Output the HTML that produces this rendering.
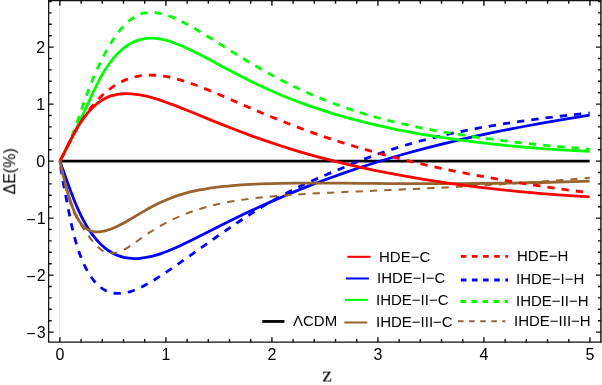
<!DOCTYPE html>
<html><head><meta charset="utf-8"><title>plot</title>
<style>
html,body{margin:0;padding:0;background:#fff;}
body{width:602px;height:385px;position:relative;overflow:hidden;font-family:"Liberation Sans",sans-serif;color:#000;}
.t{will-change:transform;position:absolute;white-space:nowrap;font-family:"Liberation Sans",sans-serif;}
.t.r{text-align:right;}
.t.c{text-align:center;}
</style></head><body>
<svg width="602" height="385" viewBox="0 0 602 385" style="position:absolute;left:0;top:0">
<line x1="59.65" y1="0.7" x2="59.65" y2="342.15" stroke="#e6e6e6" stroke-width="1"/>
<line x1="48.65" y1="161.1" x2="601.0" y2="161.1" stroke="#ececec" stroke-width="1"/>
<line x1="59.9" y1="161.1" x2="589.7" y2="161.1" stroke="#000" stroke-width="2.8"/>
<path d="M59.90,161.00 C60.27,162.03 60.66,163.10 61.05,164.20 C61.44,165.31 61.84,166.44 62.25,167.61 C62.66,168.78 63.08,169.98 63.51,171.21 C63.94,172.44 64.37,173.70 64.82,174.98 C65.27,176.26 65.73,177.56 66.20,178.89 C66.66,180.21 67.14,181.56 67.63,182.93 C68.12,184.29 68.63,185.67 69.14,187.07 C69.65,188.46 70.18,189.87 70.71,191.30 C71.25,192.72 71.80,194.15 72.36,195.59 C72.92,197.02 73.49,198.47 74.08,199.91 C74.66,201.36 75.26,202.81 75.88,204.25 C76.49,205.69 77.12,207.14 77.76,208.57 C78.40,210.00 79.06,211.43 79.73,212.85 C80.40,214.26 81.09,215.66 81.79,217.05 C82.49,218.44 83.21,219.81 83.94,221.15 C84.68,222.50 85.43,223.83 86.20,225.14 C86.97,226.44 87.75,227.72 88.56,228.98 C89.36,230.23 90.18,231.46 91.02,232.66 C91.86,233.86 92.72,235.04 93.60,236.17 C94.48,237.31 95.38,238.42 96.30,239.49 C97.22,240.57 98.16,241.60 99.12,242.60 C100.08,243.60 101.06,244.57 102.07,245.49 C103.07,246.41 104.10,247.29 105.15,248.13 C106.21,248.97 107.28,249.76 108.38,250.51 C109.48,251.26 110.61,251.96 111.76,252.62 C112.91,253.27 114.09,253.87 115.29,254.43 C116.49,254.98 117.72,255.48 118.98,255.93 C120.24,256.38 121.53,256.77 122.85,257.10 C124.16,257.44 125.51,257.71 126.89,257.93 C128.27,258.15 129.67,258.31 131.12,258.41 C132.56,258.52 134.03,258.56 135.54,258.54 C137.04,258.52 138.58,258.44 140.16,258.30 C141.74,258.17 143.35,257.97 145.00,257.70 C146.65,257.44 148.33,257.12 150.06,256.73 C151.78,256.35 153.54,255.90 155.35,255.39 C157.15,254.88 158.99,254.30 160.88,253.66 C162.77,253.02 164.70,252.32 166.67,251.55 C168.64,250.78 170.66,249.95 172.72,249.06 C174.79,248.17 176.90,247.22 179.06,246.22 C181.21,245.22 183.42,244.16 185.68,243.06 C187.94,241.96 190.25,240.82 192.61,239.64 C194.97,238.46 197.38,237.23 199.85,235.98 C202.32,234.73 204.85,233.44 207.43,232.13 C210.02,230.82 212.66,229.48 215.36,228.13 C218.06,226.77 220.83,225.39 223.65,223.98 C226.48,222.58 229.37,221.16 232.33,219.71 C235.28,218.27 238.31,216.81 241.40,215.33 C244.49,213.85 247.65,212.36 250.89,210.85 C254.12,209.34 257.43,207.81 260.81,206.28 C264.19,204.74 267.65,203.19 271.19,201.63 C274.73,200.07 278.35,198.50 282.05,196.92 C285.75,195.34 289.53,193.75 293.40,192.16 C297.27,190.57 301.23,188.97 305.28,187.36 C309.33,185.76 313.47,184.15 317.70,182.54 C321.94,180.93 326.27,179.31 330.70,177.70 C335.13,176.09 339.66,174.47 344.29,172.86 C348.92,171.25 353.66,169.64 358.51,168.04 C363.35,166.43 368.31,164.83 373.37,163.24 C378.44,161.64 383.62,160.06 388.93,158.48 C394.23,156.90 399.65,155.33 405.19,153.76 C410.74,152.20 416.41,150.65 422.21,149.12 C428.01,147.58 433.94,146.06 440.00,144.55 C446.07,143.04 452.27,141.55 458.62,140.07 C464.96,138.59 471.45,137.14 478.09,135.69 C484.72,134.25 491.51,132.83 498.45,131.42 C505.39,130.01 512.49,128.62 519.75,127.25 C527.01,125.87 534.43,124.51 542.03,123.16 C549.62,121.81 557.38,120.48 565.33,119.16 C573.27,117.83 581.39,116.53 589.70,115.23" fill="none" stroke="#0000ff" stroke-width="2.8"/>
<path d="M59.90,161.00 C60.27,163.97 60.66,166.73 61.05,169.35 C61.44,171.97 61.84,174.46 62.25,176.86 C62.66,179.26 63.08,181.58 63.51,183.88 C63.94,186.18 64.37,188.47 64.82,190.80 C65.27,193.13 65.73,195.50 66.20,197.97 C66.66,200.44 67.14,202.98 67.63,205.56 C68.12,208.13 68.63,210.74 69.14,213.34 C69.65,215.94 70.18,218.54 70.71,221.08 C71.25,223.62 71.80,226.10 72.36,228.50 C72.92,230.90 73.49,233.23 74.08,235.49 C74.66,237.75 75.26,239.94 75.88,242.05 C76.49,244.17 77.12,246.21 77.76,248.19 C78.40,250.17 79.06,252.08 79.73,253.92 C80.40,255.77 81.09,257.54 81.79,259.26 C82.49,260.97 83.21,262.62 83.94,264.20 C84.68,265.79 85.43,267.32 86.20,268.78 C86.97,270.24 87.75,271.65 88.56,272.99 C89.36,274.33 90.18,275.60 91.02,276.82 C91.86,278.03 92.72,279.19 93.60,280.27 C94.48,281.36 95.38,282.38 96.30,283.34 C97.22,284.30 98.16,285.19 99.12,286.01 C100.08,286.84 101.06,287.60 102.07,288.29 C103.07,288.98 104.10,289.60 105.15,290.16 C106.21,290.71 107.28,291.20 108.38,291.61 C109.48,292.03 110.61,292.38 111.76,292.65 C112.91,292.93 114.09,293.13 115.29,293.26 C116.49,293.39 117.72,293.45 118.98,293.44 C120.24,293.43 121.53,293.34 122.85,293.18 C124.16,293.02 125.51,292.78 126.89,292.47 C128.27,292.16 129.67,291.78 131.12,291.31 C132.56,290.85 134.03,290.32 135.54,289.71 C137.04,289.10 138.58,288.42 140.16,287.68 C141.74,286.93 143.35,286.12 145.00,285.24 C146.65,284.36 148.33,283.42 150.06,282.42 C151.78,281.43 153.54,280.37 155.35,279.25 C157.15,278.14 158.99,276.97 160.88,275.75 C162.77,274.53 164.70,273.26 166.67,271.93 C168.64,270.61 170.66,269.24 172.72,267.82 C174.79,266.40 176.90,264.93 179.06,263.42 C181.21,261.91 183.42,260.36 185.68,258.76 C187.94,257.16 190.25,255.52 192.61,253.84 C194.97,252.17 197.38,250.45 199.85,248.69 C202.32,246.94 204.85,245.15 207.43,243.32 C210.02,241.50 212.66,239.64 215.36,237.75 C218.06,235.86 220.83,233.94 223.65,231.99 C226.48,230.04 229.37,228.06 232.33,226.06 C235.28,224.06 238.31,222.03 241.40,220.00 C244.49,217.96 247.65,215.91 250.89,213.86 C254.12,211.80 257.43,209.75 260.81,207.70 C264.19,205.64 267.65,203.60 271.19,201.57 C274.73,199.54 278.35,197.52 282.05,195.53 C285.75,193.53 289.53,191.56 293.40,189.63 C297.27,187.69 301.23,185.79 305.28,183.92 C309.33,182.06 313.47,180.22 317.70,178.39 C321.94,176.55 326.27,174.72 330.70,172.87 C335.13,171.02 339.66,169.13 344.29,167.21 C348.92,165.29 353.66,163.34 358.51,161.41 C363.35,159.48 368.31,157.58 373.37,155.73 C378.44,153.89 383.62,152.09 388.93,150.34 C394.23,148.60 399.65,146.90 405.19,145.26 C410.74,143.62 416.41,142.03 422.21,140.49 C428.01,138.96 433.94,137.48 440.00,136.05 C446.07,134.63 452.27,133.26 458.62,131.95 C464.96,130.63 471.45,129.37 478.09,128.16 C484.72,126.95 491.51,125.79 498.45,124.67 C505.39,123.55 512.49,122.48 519.75,121.44 C527.01,120.40 534.43,119.39 542.03,118.42 C549.62,117.45 557.38,116.51 565.33,115.59 C573.27,114.67 581.39,113.78 589.70,112.91" fill="none" stroke="#0000ff" stroke-width="2.8" stroke-dasharray="7.3,7.04" stroke-dashoffset="8.43"/>
<path d="M59.90,161.00 C60.27,160.35 60.66,159.68 61.05,158.98 C61.44,158.29 61.84,157.57 62.25,156.83 C62.66,156.09 63.08,155.33 63.51,154.54 C63.94,153.75 64.37,152.93 64.82,152.09 C65.27,151.25 65.73,150.38 66.20,149.48 C66.66,148.58 67.14,147.66 67.63,146.70 C68.12,145.74 68.63,144.76 69.14,143.74 C69.65,142.72 70.18,141.67 70.71,140.59 C71.25,139.50 71.80,138.39 72.36,137.24 C72.92,136.09 73.49,134.90 74.08,133.68 C74.66,132.46 75.26,131.20 75.88,129.90 C76.49,128.60 77.12,127.27 77.76,125.90 C78.40,124.52 79.06,123.11 79.73,121.66 C80.40,120.20 81.09,118.71 81.79,117.17 C82.49,115.63 83.21,114.05 83.94,112.43 C84.68,110.80 85.43,109.13 86.20,107.42 C86.97,105.71 87.75,103.97 88.56,102.19 C89.36,100.42 90.18,98.61 91.02,96.80 C91.86,94.98 92.72,93.15 93.60,91.31 C94.48,89.48 95.38,87.64 96.30,85.81 C97.22,83.97 98.16,82.15 99.12,80.34 C100.08,78.54 101.06,76.75 102.07,75.00 C103.07,73.24 104.10,71.52 105.15,69.84 C106.21,68.15 107.28,66.51 108.38,64.93 C109.48,63.34 110.61,61.81 111.76,60.33 C112.91,58.86 114.09,57.45 115.29,56.10 C116.49,54.75 117.72,53.46 118.98,52.24 C120.24,51.02 121.53,49.87 122.85,48.79 C124.16,47.72 125.51,46.71 126.89,45.78 C128.27,44.85 129.67,44.00 131.12,43.23 C132.56,42.46 134.03,41.77 135.54,41.16 C137.04,40.56 138.58,40.04 140.16,39.61 C141.74,39.18 143.35,38.84 145.00,38.60 C146.65,38.35 148.33,38.20 150.06,38.15 C151.78,38.09 153.54,38.14 155.35,38.29 C157.15,38.44 158.99,38.69 160.88,39.05 C162.77,39.40 164.70,39.86 166.67,40.41 C168.64,40.96 170.66,41.61 172.72,42.34 C174.79,43.07 176.90,43.88 179.06,44.77 C181.21,45.66 183.42,46.63 185.68,47.66 C187.94,48.70 190.25,49.80 192.61,50.96 C194.97,52.13 197.38,53.35 199.85,54.62 C202.32,55.90 204.85,57.22 207.43,58.59 C210.02,59.96 212.66,61.37 215.36,62.82 C218.06,64.27 220.83,65.75 223.65,67.26 C226.48,68.76 229.37,70.30 232.33,71.85 C235.28,73.41 238.31,74.98 241.40,76.56 C244.49,78.14 247.65,79.73 250.89,81.32 C254.12,82.92 257.43,84.51 260.81,86.10 C264.19,87.69 267.65,89.27 271.19,90.83 C274.73,92.40 278.35,93.95 282.05,95.48 C285.75,97.01 289.53,98.52 293.40,100.01 C297.27,101.50 301.23,102.97 305.28,104.42 C309.33,105.87 313.47,107.30 317.70,108.70 C321.94,110.11 326.27,111.49 330.70,112.84 C335.13,114.20 339.66,115.53 344.29,116.84 C348.92,118.14 353.66,119.42 358.51,120.67 C363.35,121.92 368.31,123.15 373.37,124.34 C378.44,125.54 383.62,126.71 388.93,127.84 C394.23,128.98 399.65,130.08 405.19,131.16 C410.74,132.23 416.41,133.27 422.21,134.28 C428.01,135.29 433.94,136.27 440.00,137.21 C446.07,138.15 452.27,139.05 458.62,139.92 C464.96,140.79 471.45,141.63 478.09,142.42 C484.72,143.22 491.51,143.98 498.45,144.70 C505.39,145.42 512.49,146.10 519.75,146.74 C527.01,147.38 534.43,147.98 542.03,148.54 C549.62,149.10 557.38,149.61 565.33,150.09 C573.27,150.56 581.39,150.99 589.70,151.37" fill="none" stroke="#00ff00" stroke-width="2.8"/>
<path d="M59.90,161.00 C60.27,160.32 60.66,159.63 61.05,158.92 C61.44,158.20 61.84,157.47 62.25,156.70 C62.66,155.94 63.08,155.15 63.51,154.33 C63.94,153.50 64.37,152.65 64.82,151.75 C65.27,150.86 65.73,149.93 66.20,148.96 C66.66,147.98 67.14,146.97 67.63,145.90 C68.12,144.84 68.63,143.73 69.14,142.56 C69.65,141.40 70.18,140.18 70.71,138.90 C71.25,137.63 71.80,136.29 72.36,134.90 C72.92,133.50 73.49,132.04 74.08,130.51 C74.66,128.98 75.26,127.39 75.88,125.72 C76.49,124.05 77.12,122.30 77.76,120.48 C78.40,118.66 79.06,116.76 79.73,114.81 C80.40,112.86 81.09,110.85 81.79,108.81 C82.49,106.76 83.21,104.68 83.94,102.58 C84.68,100.47 85.43,98.35 86.20,96.23 C86.97,94.10 87.75,91.98 88.56,89.87 C89.36,87.76 90.18,85.65 91.02,83.55 C91.86,81.46 92.72,79.37 93.60,77.29 C94.48,75.21 95.38,73.14 96.30,71.08 C97.22,69.02 98.16,66.98 99.12,64.94 C100.08,62.91 101.06,60.89 102.07,58.89 C103.07,56.89 104.10,54.91 105.15,52.96 C106.21,51.00 107.28,49.08 108.38,47.19 C109.48,45.30 110.61,43.45 111.76,41.64 C112.91,39.83 114.09,38.07 115.29,36.36 C116.49,34.65 117.72,32.99 118.98,31.41 C120.24,29.82 121.53,28.30 122.85,26.87 C124.16,25.43 125.51,24.07 126.89,22.81 C128.27,21.55 129.67,20.38 131.12,19.31 C132.56,18.25 134.03,17.29 135.54,16.45 C137.04,15.60 138.58,14.88 140.16,14.29 C141.74,13.69 143.35,13.23 145.00,12.91 C146.65,12.59 148.33,12.40 150.06,12.35 C151.78,12.30 153.54,12.37 155.35,12.57 C157.15,12.77 158.99,13.08 160.88,13.52 C162.77,13.95 164.70,14.49 166.67,15.14 C168.64,15.79 170.66,16.54 172.72,17.39 C174.79,18.23 176.90,19.18 179.06,20.21 C181.21,21.24 183.42,22.36 185.68,23.56 C187.94,24.76 190.25,26.03 192.61,27.38 C194.97,28.73 197.38,30.14 199.85,31.62 C202.32,33.10 204.85,34.65 207.43,36.24 C210.02,37.84 212.66,39.48 215.36,41.18 C218.06,42.87 220.83,44.61 223.65,46.39 C226.48,48.16 229.37,49.98 232.33,51.82 C235.28,53.66 238.31,55.53 241.40,57.42 C244.49,59.30 247.65,61.21 250.89,63.13 C254.12,65.05 257.43,66.98 260.81,68.92 C264.19,70.85 267.65,72.79 271.19,74.72 C274.73,76.65 278.35,78.58 282.05,80.49 C285.75,82.40 289.53,84.30 293.40,86.18 C297.27,88.06 301.23,89.91 305.28,91.74 C309.33,93.57 313.47,95.38 317.70,97.15 C321.94,98.92 326.27,100.66 330.70,102.37 C335.13,104.07 339.66,105.73 344.29,107.35 C348.92,108.97 353.66,110.55 358.51,112.07 C363.35,113.60 368.31,115.07 373.37,116.49 C378.44,117.92 383.62,119.29 388.93,120.62 C394.23,121.94 399.65,123.22 405.19,124.46 C410.74,125.70 416.41,126.89 422.21,128.04 C428.01,129.19 433.94,130.30 440.00,131.38 C446.07,132.45 452.27,133.48 458.62,134.48 C464.96,135.49 471.45,136.45 478.09,137.39 C484.72,138.32 491.51,139.22 498.45,140.09 C505.39,140.97 512.49,141.81 519.75,142.62 C527.01,143.44 534.43,144.23 542.03,144.99 C549.62,145.75 557.38,146.49 565.33,147.20 C573.27,147.92 581.39,148.61 589.70,149.28" fill="none" stroke="#00ff00" stroke-width="2.8" stroke-dasharray="7.3,7.04" stroke-dashoffset="1.25"/>
<path d="M59.90,161.00 C60.27,162.72 60.66,164.45 61.05,166.19 C61.44,167.93 61.84,169.68 62.25,171.43 C62.66,173.18 63.08,174.94 63.51,176.70 C63.94,178.45 64.37,180.20 64.82,181.95 C65.27,183.69 65.73,185.42 66.20,187.15 C66.66,188.87 67.14,190.57 67.63,192.26 C68.12,193.94 68.63,195.61 69.14,197.24 C69.65,198.88 70.18,200.48 70.71,202.05 C71.25,203.62 71.80,205.16 72.36,206.64 C72.92,208.13 73.49,209.57 74.08,210.96 C74.66,212.35 75.26,213.68 75.88,214.96 C76.49,216.23 77.12,217.44 77.76,218.59 C78.40,219.73 79.06,220.80 79.73,221.80 C80.40,222.80 81.09,223.71 81.79,224.55 C82.49,225.39 83.21,226.15 83.94,226.84 C84.68,227.52 85.43,228.13 86.20,228.66 C86.97,229.19 87.75,229.64 88.56,230.02 C89.36,230.41 90.18,230.72 91.02,230.97 C91.86,231.22 92.72,231.41 93.60,231.55 C94.48,231.69 95.38,231.78 96.30,231.82 C97.22,231.86 98.16,231.85 99.12,231.79 C100.08,231.73 101.06,231.62 102.07,231.46 C103.07,231.30 104.10,231.09 105.15,230.83 C106.21,230.57 107.28,230.26 108.38,229.90 C109.48,229.55 110.61,229.14 111.76,228.69 C112.91,228.24 114.09,227.74 115.29,227.19 C116.49,226.65 117.72,226.06 118.98,225.44 C120.24,224.81 121.53,224.14 122.85,223.43 C124.16,222.72 125.51,221.97 126.89,221.19 C128.27,220.40 129.67,219.58 131.12,218.74 C132.56,217.89 134.03,217.02 135.54,216.13 C137.04,215.23 138.58,214.32 140.16,213.40 C141.74,212.48 143.35,211.55 145.00,210.61 C146.65,209.67 148.33,208.73 150.06,207.80 C151.78,206.86 153.54,205.93 155.35,205.02 C157.15,204.10 158.99,203.20 160.88,202.31 C162.77,201.43 164.70,200.57 166.67,199.73 C168.64,198.90 170.66,198.09 172.72,197.33 C174.79,196.56 176.90,195.83 179.06,195.14 C181.21,194.44 183.42,193.79 185.68,193.17 C187.94,192.56 190.25,191.98 192.61,191.43 C194.97,190.88 197.38,190.37 199.85,189.89 C202.32,189.41 204.85,188.96 207.43,188.55 C210.02,188.13 212.66,187.74 215.36,187.38 C218.06,187.02 220.83,186.69 223.65,186.39 C226.48,186.08 229.37,185.80 232.33,185.55 C235.28,185.30 238.31,185.07 241.40,184.86 C244.49,184.65 247.65,184.47 250.89,184.30 C254.12,184.14 257.43,183.99 260.81,183.87 C264.19,183.74 267.65,183.63 271.19,183.54 C274.73,183.45 278.35,183.37 282.05,183.31 C285.75,183.25 289.53,183.21 293.40,183.17 C297.27,183.14 301.23,183.12 305.28,183.10 C309.33,183.09 313.47,183.09 317.70,183.10 C321.94,183.11 326.27,183.12 330.70,183.14 C335.13,183.17 339.66,183.19 344.29,183.22 C348.92,183.26 353.66,183.29 358.51,183.33 C363.35,183.36 368.31,183.40 373.37,183.44 C378.44,183.48 383.62,183.51 388.93,183.54 C394.23,183.58 399.65,183.61 405.19,183.63 C410.74,183.65 416.41,183.67 422.21,183.68 C428.01,183.69 433.94,183.69 440.00,183.69 C446.07,183.68 452.27,183.66 458.62,183.63 C464.96,183.60 471.45,183.55 478.09,183.49 C484.72,183.44 491.51,183.36 498.45,183.27 C505.39,183.18 512.49,183.07 519.75,182.94 C527.01,182.82 534.43,182.67 542.03,182.50 C549.62,182.33 557.38,182.14 565.33,181.92 C573.27,181.70 581.39,181.46 589.70,181.20" fill="none" stroke="#99632f" stroke-width="2.8"/>
<path d="M59.90,161.00 C60.27,162.86 60.66,164.74 61.05,166.64 C61.44,168.53 61.84,170.44 62.25,172.35 C62.66,174.25 63.08,176.16 63.51,178.06 C63.94,179.96 64.37,181.84 64.82,183.71 C65.27,185.58 65.73,187.42 66.20,189.24 C66.66,191.06 67.14,192.84 67.63,194.59 C68.12,196.33 68.63,198.03 69.14,199.68 C69.65,201.34 70.18,202.93 70.71,204.47 C71.25,206.01 71.80,207.48 72.36,208.89 C72.92,210.29 73.49,211.61 74.08,212.87 C74.66,214.13 75.26,215.32 75.88,216.47 C76.49,217.61 77.12,218.71 77.76,219.79 C78.40,220.86 79.06,221.91 79.73,222.96 C80.40,224.00 81.09,225.04 81.79,226.09 C82.49,227.13 83.21,228.20 83.94,229.29 C84.68,230.38 85.43,231.49 86.20,232.60 C86.97,233.71 87.75,234.82 88.56,235.92 C89.36,237.02 90.18,238.10 91.02,239.15 C91.86,240.21 92.72,241.24 93.60,242.24 C94.48,243.25 95.38,244.24 96.30,245.21 C97.22,246.18 98.16,247.14 99.12,248.06 C100.08,248.97 101.06,249.76 102.07,250.41 C103.07,251.06 104.10,251.58 105.15,251.99 C106.21,252.39 107.28,252.68 108.38,252.86 C109.48,253.05 110.61,253.14 111.76,253.14 C112.91,253.14 114.09,253.08 115.29,252.88 C116.49,252.69 117.72,252.36 118.98,251.91 C120.24,251.47 121.53,250.91 122.85,250.26 C124.16,249.60 125.51,248.85 126.89,248.02 C128.27,247.20 129.67,246.29 131.12,245.33 C132.56,244.37 134.03,243.35 135.54,242.28 C137.04,241.22 138.58,240.12 140.16,239.00 C141.74,237.88 143.35,236.73 145.00,235.59 C146.65,234.44 148.33,233.29 150.06,232.16 C151.78,231.03 153.54,229.91 155.35,228.81 C157.15,227.71 158.99,226.63 160.88,225.56 C162.77,224.50 164.70,223.46 166.67,222.44 C168.64,221.41 170.66,220.41 172.72,219.44 C174.79,218.46 176.90,217.50 179.06,216.57 C181.21,215.64 183.42,214.74 185.68,213.86 C187.94,212.98 190.25,212.13 192.61,211.31 C194.97,210.49 197.38,209.69 199.85,208.93 C202.32,208.16 204.85,207.43 207.43,206.73 C210.02,206.03 212.66,205.36 215.36,204.72 C218.06,204.09 220.83,203.49 223.65,202.92 C226.48,202.35 229.37,201.81 232.33,201.31 C235.28,200.80 238.31,200.32 241.40,199.87 C244.49,199.42 247.65,199.00 250.89,198.60 C254.12,198.19 257.43,197.82 260.81,197.46 C264.19,197.10 267.65,196.77 271.19,196.45 C274.73,196.13 278.35,195.83 282.05,195.54 C285.75,195.26 289.53,194.99 293.40,194.73 C297.27,194.47 301.23,194.22 305.28,193.99 C309.33,193.75 313.47,193.52 317.70,193.30 C321.94,193.08 326.27,192.86 330.70,192.65 C335.13,192.44 339.66,192.23 344.29,192.02 C348.92,191.81 353.66,191.61 358.51,191.40 C363.35,191.18 368.31,190.97 373.37,190.75 C378.44,190.54 383.62,190.31 388.93,190.08 C394.23,189.85 399.65,189.61 405.19,189.36 C410.74,189.11 416.41,188.85 422.21,188.58 C428.01,188.30 433.94,188.01 440.00,187.71 C446.07,187.40 452.27,187.08 458.62,186.74 C464.96,186.40 471.45,186.04 478.09,185.65 C484.72,185.27 491.51,184.86 498.45,184.43 C505.39,184.00 512.49,183.54 519.75,183.06 C527.01,182.57 534.43,182.06 542.03,181.51 C549.62,180.97 557.38,180.39 565.33,179.78 C573.27,179.17 581.39,178.53 589.70,177.85" fill="none" stroke="#99632f" stroke-width="2.0" stroke-dasharray="7.3,7.04" stroke-dashoffset="5.05"/>
<path d="M59.90,161.00 C60.27,160.33 60.66,159.63 61.05,158.89 C61.44,158.16 61.84,157.38 62.25,156.58 C62.66,155.78 63.08,154.95 63.51,154.09 C63.94,153.24 64.37,152.35 64.82,151.45 C65.27,150.54 65.73,149.61 66.20,148.66 C66.66,147.71 67.14,146.74 67.63,145.75 C68.12,144.77 68.63,143.76 69.14,142.75 C69.65,141.73 70.18,140.71 70.71,139.67 C71.25,138.63 71.80,137.59 72.36,136.53 C72.92,135.48 73.49,134.42 74.08,133.36 C74.66,132.30 75.26,131.24 75.88,130.18 C76.49,129.12 77.12,128.06 77.76,127.00 C78.40,125.94 79.06,124.89 79.73,123.85 C80.40,122.80 81.09,121.77 81.79,120.74 C82.49,119.72 83.21,118.71 83.94,117.71 C84.68,116.71 85.43,115.73 86.20,114.76 C86.97,113.80 87.75,112.85 88.56,111.93 C89.36,111.00 90.18,110.10 91.02,109.22 C91.86,108.34 92.72,107.49 93.60,106.67 C94.48,105.84 95.38,105.05 96.30,104.29 C97.22,103.52 98.16,102.79 99.12,102.10 C100.08,101.40 101.06,100.74 102.07,100.12 C103.07,99.50 104.10,98.92 105.15,98.38 C106.21,97.84 107.28,97.34 108.38,96.89 C109.48,96.44 110.61,96.04 111.76,95.68 C112.91,95.33 114.09,95.02 115.29,94.76 C116.49,94.49 117.72,94.28 118.98,94.11 C120.24,93.94 121.53,93.82 122.85,93.74 C124.16,93.66 125.51,93.63 126.89,93.64 C128.27,93.66 129.67,93.72 131.12,93.82 C132.56,93.93 134.03,94.08 135.54,94.27 C137.04,94.46 138.58,94.70 140.16,94.98 C141.74,95.27 143.35,95.59 145.00,95.96 C146.65,96.33 148.33,96.74 150.06,97.20 C151.78,97.66 153.54,98.16 155.35,98.70 C157.15,99.24 158.99,99.83 160.88,100.45 C162.77,101.08 164.70,101.75 166.67,102.45 C168.64,103.16 170.66,103.90 172.72,104.68 C174.79,105.46 176.90,106.27 179.06,107.12 C181.21,107.97 183.42,108.84 185.68,109.75 C187.94,110.66 190.25,111.59 192.61,112.56 C194.97,113.52 197.38,114.51 199.85,115.52 C202.32,116.53 204.85,117.56 207.43,118.62 C210.02,119.67 212.66,120.75 215.36,121.84 C218.06,122.93 220.83,124.04 223.65,125.16 C226.48,126.28 229.37,127.42 232.33,128.57 C235.28,129.72 238.31,130.88 241.40,132.04 C244.49,133.21 247.65,134.39 250.89,135.57 C254.12,136.75 257.43,137.93 260.81,139.12 C264.19,140.31 267.65,141.50 271.19,142.69 C274.73,143.88 278.35,145.07 282.05,146.25 C285.75,147.43 289.53,148.62 293.40,149.79 C297.27,150.97 301.23,152.14 305.28,153.31 C309.33,154.47 313.47,155.63 317.70,156.78 C321.94,157.93 326.27,159.08 330.70,160.21 C335.13,161.34 339.66,162.46 344.29,163.57 C348.92,164.68 353.66,165.78 358.51,166.87 C363.35,167.95 368.31,169.02 373.37,170.08 C378.44,171.13 383.62,172.17 388.93,173.20 C394.23,174.22 399.65,175.22 405.19,176.21 C410.74,177.20 416.41,178.17 422.21,179.11 C428.01,180.06 433.94,180.99 440.00,181.89 C446.07,182.79 452.27,183.67 458.62,184.53 C464.96,185.39 471.45,186.22 478.09,187.03 C484.72,187.83 491.51,188.62 498.45,189.37 C505.39,190.12 512.49,190.85 519.75,191.54 C527.01,192.24 534.43,192.90 542.03,193.54 C549.62,194.17 557.38,194.77 565.33,195.34 C573.27,195.92 581.39,196.45 589.70,196.95" fill="none" stroke="#ff0000" stroke-width="2.8"/>
<path d="M59.90,161.00 C60.27,160.33 60.66,159.63 61.05,158.90 C61.44,158.17 61.84,157.41 62.25,156.62 C62.66,155.83 63.08,155.02 63.51,154.18 C63.94,153.34 64.37,152.48 64.82,151.59 C65.27,150.71 65.73,149.80 66.20,148.87 C66.66,147.94 67.14,146.99 67.63,146.03 C68.12,145.06 68.63,144.08 69.14,143.08 C69.65,142.08 70.18,141.06 70.71,140.04 C71.25,139.01 71.80,137.97 72.36,136.91 C72.92,135.86 73.49,134.80 74.08,133.73 C74.66,132.66 75.26,131.58 75.88,130.49 C76.49,129.40 77.12,128.31 77.76,127.22 C78.40,126.12 79.06,125.02 79.73,123.92 C80.40,122.82 81.09,121.71 81.79,120.61 C82.49,119.51 83.21,118.41 83.94,117.31 C84.68,116.21 85.43,115.11 86.20,114.02 C86.97,112.93 87.75,111.85 88.56,110.77 C89.36,109.69 90.18,108.62 91.02,107.56 C91.86,106.50 92.72,105.46 93.60,104.42 C94.48,103.38 95.38,102.36 96.30,101.35 C97.22,100.34 98.16,99.34 99.12,98.36 C100.08,97.38 101.06,96.42 102.07,95.48 C103.07,94.53 104.10,93.61 105.15,92.71 C106.21,91.81 107.28,90.93 108.38,90.07 C109.48,89.22 110.61,88.38 111.76,87.58 C112.91,86.77 114.09,85.99 115.29,85.24 C116.49,84.49 117.72,83.77 118.98,83.08 C120.24,82.40 121.53,81.74 122.85,81.13 C124.16,80.52 125.51,79.94 126.89,79.41 C128.27,78.87 129.67,78.38 131.12,77.93 C132.56,77.49 134.03,77.09 135.54,76.74 C137.04,76.39 138.58,76.09 140.16,75.85 C141.74,75.60 143.35,75.41 145.00,75.28 C146.65,75.15 148.33,75.08 150.06,75.07 C151.78,75.06 153.54,75.11 155.35,75.23 C157.15,75.34 158.99,75.52 160.88,75.77 C162.77,76.01 164.70,76.31 166.67,76.68 C168.64,77.05 170.66,77.48 172.72,77.97 C174.79,78.45 176.90,79.00 179.06,79.61 C181.21,80.22 183.42,80.89 185.68,81.61 C187.94,82.33 190.25,83.12 192.61,83.96 C194.97,84.79 197.38,85.69 199.85,86.64 C202.32,87.59 204.85,88.59 207.43,89.64 C210.02,90.68 212.66,91.78 215.36,92.91 C218.06,94.05 220.83,95.23 223.65,96.44 C226.48,97.66 229.37,98.91 232.33,100.20 C235.28,101.48 238.31,102.80 241.40,104.14 C244.49,105.48 247.65,106.85 250.89,108.24 C254.12,109.63 257.43,111.04 260.81,112.46 C264.19,113.89 267.65,115.34 271.19,116.79 C274.73,118.24 278.35,119.71 282.05,121.18 C285.75,122.65 289.53,124.13 293.40,125.61 C297.27,127.09 301.23,128.57 305.28,130.05 C309.33,131.53 313.47,133.01 317.70,134.48 C321.94,135.96 326.27,137.43 330.70,138.89 C335.13,140.36 339.66,141.81 344.29,143.26 C348.92,144.71 353.66,146.15 358.51,147.57 C363.35,149.00 368.31,150.42 373.37,151.82 C378.44,153.22 383.62,154.61 388.93,155.99 C394.23,157.36 399.65,158.73 405.19,160.08 C410.74,161.43 416.41,162.76 422.21,164.09 C428.01,165.41 433.94,166.72 440.00,168.01 C446.07,169.31 452.27,170.58 458.62,171.85 C464.96,173.11 471.45,174.36 478.09,175.59 C484.72,176.83 491.51,178.04 498.45,179.24 C505.39,180.44 512.49,181.63 519.75,182.80 C527.01,183.96 534.43,185.11 542.03,186.24 C549.62,187.38 557.38,188.49 565.33,189.59 C573.27,190.69 581.39,191.76 589.70,192.82" fill="none" stroke="#ff0000" stroke-width="2.8" stroke-dasharray="7.3,7.04" stroke-dashoffset="12.82"/>
<g stroke="#111" fill="none">
<path d="M601.0,0.7 H48.65 V342.15 H601.0" stroke-width="1.25"/>
<path d="M600.92,0.09999999999999998 V342.77" stroke-width="1.45"/>
<path d="M59.90,342.15 v-5.0 M59.90,0.7 v5.0 M81.10,342.15 v-3.1 M81.10,0.7 v3.1 M102.30,342.15 v-3.1 M102.30,0.7 v3.1 M123.51,342.15 v-3.1 M123.51,0.7 v3.1 M144.71,342.15 v-3.1 M144.71,0.7 v3.1 M165.91,342.15 v-5.0 M165.91,0.7 v5.0 M187.11,342.15 v-3.1 M187.11,0.7 v3.1 M208.31,342.15 v-3.1 M208.31,0.7 v3.1 M229.52,342.15 v-3.1 M229.52,0.7 v3.1 M250.72,342.15 v-3.1 M250.72,0.7 v3.1 M271.92,342.15 v-5.0 M271.92,0.7 v5.0 M293.12,342.15 v-3.1 M293.12,0.7 v3.1 M314.32,342.15 v-3.1 M314.32,0.7 v3.1 M335.53,342.15 v-3.1 M335.53,0.7 v3.1 M356.73,342.15 v-3.1 M356.73,0.7 v3.1 M377.93,342.15 v-5.0 M377.93,0.7 v5.0 M399.13,342.15 v-3.1 M399.13,0.7 v3.1 M420.33,342.15 v-3.1 M420.33,0.7 v3.1 M441.54,342.15 v-3.1 M441.54,0.7 v3.1 M462.74,342.15 v-3.1 M462.74,0.7 v3.1 M483.94,342.15 v-5.0 M483.94,0.7 v5.0 M505.14,342.15 v-3.1 M505.14,0.7 v3.1 M526.34,342.15 v-3.1 M526.34,0.7 v3.1 M547.55,342.15 v-3.1 M547.55,0.7 v3.1 M568.75,342.15 v-3.1 M568.75,0.7 v3.1 M589.95,342.15 v-5.0 M589.95,0.7 v5.0 M48.65,332.10 h5.0 M601.0,332.10 h-5.0 M48.65,320.70 h3.1 M601.0,320.70 h-3.1 M48.65,309.30 h3.1 M601.0,309.30 h-3.1 M48.65,297.90 h3.1 M601.0,297.90 h-3.1 M48.65,286.50 h3.1 M601.0,286.50 h-3.1 M48.65,275.10 h5.0 M601.0,275.10 h-5.0 M48.65,263.70 h3.1 M601.0,263.70 h-3.1 M48.65,252.30 h3.1 M601.0,252.30 h-3.1 M48.65,240.90 h3.1 M601.0,240.90 h-3.1 M48.65,229.50 h3.1 M601.0,229.50 h-3.1 M48.65,218.10 h5.0 M601.0,218.10 h-5.0 M48.65,206.70 h3.1 M601.0,206.70 h-3.1 M48.65,195.30 h3.1 M601.0,195.30 h-3.1 M48.65,183.90 h3.1 M601.0,183.90 h-3.1 M48.65,172.50 h3.1 M601.0,172.50 h-3.1 M48.65,161.10 h5.0 M601.0,161.10 h-5.0 M48.65,149.70 h3.1 M601.0,149.70 h-3.1 M48.65,138.30 h3.1 M601.0,138.30 h-3.1 M48.65,126.90 h3.1 M601.0,126.90 h-3.1 M48.65,115.50 h3.1 M601.0,115.50 h-3.1 M48.65,104.10 h5.0 M601.0,104.10 h-5.0 M48.65,92.70 h3.1 M601.0,92.70 h-3.1 M48.65,81.30 h3.1 M601.0,81.30 h-3.1 M48.65,69.90 h3.1 M601.0,69.90 h-3.1 M48.65,58.50 h3.1 M601.0,58.50 h-3.1 M48.65,47.10 h5.0 M601.0,47.10 h-5.0 M48.65,35.70 h3.1 M601.0,35.70 h-3.1 M48.65,24.30 h3.1 M601.0,24.30 h-3.1 M48.65,12.90 h3.1 M601.0,12.90 h-3.1 M48.65,1.50 h3.1 M601.0,1.50 h-3.1" stroke-width="1.4"/>
</g>
<line x1="347.3" y1="256.8" x2="370.4" y2="256.8" stroke="#ff0000" stroke-width="2.0"/>
<line x1="346.0" y1="278.5" x2="368.9" y2="278.5" stroke="#0000ff" stroke-width="2.0"/>
<line x1="344.9" y1="299.9" x2="367.9" y2="299.9" stroke="#00ff00" stroke-width="2.0"/>
<line x1="344.3" y1="322.5" x2="367.3" y2="322.5" stroke="#99632f" stroke-width="2.0"/>
<line x1="262.3" y1="321.45" x2="284.4" y2="321.45" stroke="#000" stroke-width="2.8"/>
<line x1="460.9" y1="256.45" x2="508.1" y2="256.45" stroke="#ff0000" stroke-width="2.8" stroke-dasharray="5.55,5.55"/>
<line x1="460.9" y1="280.0" x2="508.1" y2="280.0" stroke="#0000ff" stroke-width="2.8" stroke-dasharray="5.55,5.55"/>
<line x1="460.4" y1="301.5" x2="507.9" y2="301.5" stroke="#00ff00" stroke-width="2.8" stroke-dasharray="5.55,5.55"/>
<line x1="458.0" y1="321.3" x2="505.3" y2="321.3" stroke="#99632f" stroke-width="1.9" stroke-dasharray="5.55,5.55"/>
</svg>
<div class="t " style="left:379.0px;top:248px;font-size:15px;line-height:17px;">HDE−C</div>
<div class="t " style="left:376.6px;top:269px;font-size:15px;line-height:17px;">IHDE−I−C</div>
<div class="t " style="left:375.9px;top:291px;font-size:15px;line-height:17px;">IHDE−II−C</div>
<div class="t " style="left:375.5px;top:313px;font-size:15px;line-height:17px;">IHDE−III−C</div>
<div class="t " style="left:293.2px;top:312px;font-size:15px;line-height:17px;">ΛCDM</div>
<div class="t " style="left:517.0px;top:247px;font-size:15px;line-height:17px;">HDE−H</div>
<div class="t " style="left:516.4px;top:270px;font-size:15px;line-height:17px;">IHDE−I−H</div>
<div class="t " style="left:515.8px;top:292px;font-size:15px;line-height:17px;">IHDE−II−H</div>
<div class="t " style="left:513.8px;top:312px;font-size:15px;line-height:17px;">IHDE−III−H</div>
<div class="t r" style="left:0px;top:39px;font-size:16px;line-height:17px;width:45.2px;">2</div>
<div class="t r" style="left:0px;top:96px;font-size:16px;line-height:17px;width:45.2px;">1</div>
<div class="t r" style="left:0px;top:153px;font-size:16px;line-height:17px;width:45.2px;">0</div>
<div class="t r" style="left:0px;top:210px;font-size:16px;line-height:17px;width:45.6px;"><span style="margin-right:1px;position:relative;top:1px">−</span>1</div>
<div class="t r" style="left:0px;top:267px;font-size:16px;line-height:17px;width:45.6px;"><span style="margin-right:1px;position:relative;top:1px">−</span>2</div>
<div class="t r" style="left:0px;top:324px;font-size:16px;line-height:17px;width:45.6px;"><span style="margin-right:1px;position:relative;top:1px">−</span>3</div>
<div class="t c" style="left:40.20px;top:346px;font-size:16px;line-height:17px;width:40px;">0</div>
<div class="t c" style="left:146.21px;top:346px;font-size:16px;line-height:17px;width:40px;">1</div>
<div class="t c" style="left:252.22px;top:346px;font-size:16px;line-height:17px;width:40px;">2</div>
<div class="t c" style="left:358.23px;top:346px;font-size:16px;line-height:17px;width:40px;">3</div>
<div class="t c" style="left:464.24px;top:346px;font-size:16px;line-height:17px;width:40px;">4</div>
<div class="t c" style="left:570.25px;top:346px;font-size:16px;line-height:17px;width:40px;">5</div>
<div class="t" style="left:322.3px;top:363px;font-size:20px;line-height:22px;font-family:'Liberation Serif',serif;transform-origin:0 18px;transform:translate(0.2px,0.5px) scale(1.1,0.99);">z</div>
<div class="t" style="left:0px;top:0px;font-size:16px;line-height:17px;transform-origin:0 0;transform:translate(1.20px,194.5px) rotate(-90deg);">ΔE(%)</div>
</body></html>
